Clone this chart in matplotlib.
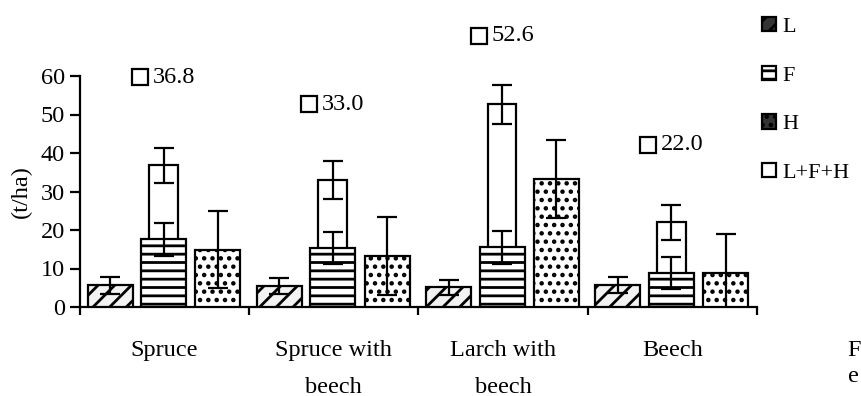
import matplotlib
matplotlib.use('Agg')
import numpy as np
from matplotlib import pyplot as plt
from matplotlib.patches import Patch

# values (t/ha)
groups = ['Spruce', 'Spruce with\nbeech', 'Larch with\nbeech', 'Beech']
litter_l = [5.6, 5.5, 5.1, 5.8]
litter_l_err = [2.1, 2.1, 2.0, 2.1]
litter_f = [17.6, 15.3, 15.5, 8.9]
litter_f_err = [4.3, 4.2, 4.25, 4.2]
litter_h = [14.9, 13.3, 33.2, 8.9]
litter_h_err = [10.0, 10.1, 10.1, 10.1]
total = [36.8, 33.0, 52.6, 22.0]
total_err = [4.6, 5.0, 5.0, 4.5]
label_y = [59.7, 52.7, 70.4, 42.1]

plt.rcParams['font.family'] = ['Liberation Serif', 'DejaVu Serif']
plt.rcParams['hatch.linewidth'] = 2.0
fs = 17.5

fig = plt.figure(figsize=(8.62, 3.96), dpi=100)
ax = fig.add_axes([80 / 862, 1 - 307 / 396, 677 / 862, 231 / 396])

x = np.arange(len(groups))
bar_w = 0.266
tot_w = 0.17
edge = dict(edgecolor='black', linewidth=1.6)
err_kw = dict(fmt='none', ecolor='black', elinewidth=1.6, capsize=7, capthick=1.6, zorder=5)

ax.bar(x + 0.178, litter_l, bar_w, facecolor='#f2f2f2', hatch='//', zorder=3, **edge)
ax.bar(x + 0.494, total, tot_w, facecolor='white', zorder=2, **edge)
ax.bar(x + 0.494, litter_f, bar_w, facecolor='white', hatch='--', zorder=3, **edge)
ax.bar(x + 0.814, litter_h, bar_w, facecolor='white', hatch='..', zorder=3, **edge)

ax.errorbar(x + 0.178, litter_l, yerr=litter_l_err, **err_kw)
ax.errorbar(x + 0.494, litter_f, yerr=litter_f_err, **err_kw)
ax.errorbar(x + 0.494, total, yerr=total_err, **err_kw)
ax.errorbar(x + 0.814, litter_h, yerr=litter_h_err, **err_kw)

# value boxes above each group
for i, (t, ly) in enumerate(zip(total, label_y)):
    ax.plot(i + 0.355, ly, marker='s', markersize=11, mfc='white', mec='black', mew=1.6,
            clip_on=False, zorder=6)
    ax.text(i + 0.43, ly, f'{t:.1f}', va='center', ha='left', fontsize=fs, clip_on=False)

ax.set_xlim(0, len(groups))
ax.set_ylim(0, 60)
ax.set_yticks(range(0, 61, 10))
ax.set_xticks(range(len(groups) + 1))
ax.set_xticklabels([])
ax.set_xticks(x + 0.5, minor=True)
ax.set_xticklabels(groups, minor=True, fontsize=fs)
ax.tick_params(axis='x', which='minor', length=0, pad=24)
ax.tick_params(axis='x', which='major', length=6, width=1.6, direction='out')
ax.tick_params(axis='y', length=7, width=1.6, direction='out', labelsize=fs, pad=4)
for lab in ax.get_xticklabels(minor=True):
    lab.set_linespacing(1.95)
for side in ['top', 'right']:
    ax.spines[side].set_visible(False)
for side in ['left', 'bottom']:
    ax.spines[side].set_linewidth(1.6)
ax.set_ylabel('(t/ha)', fontsize=fs, labelpad=6)

handles = [
    Patch(facecolor='#333333', edgecolor='black', hatch='//', linewidth=1.6),
    Patch(facecolor='white', edgecolor='black', hatch='--', linewidth=1.6),
    Patch(facecolor='#333333', edgecolor='black', hatch='..', linewidth=1.6),
    Patch(facecolor='white', edgecolor='black', linewidth=1.6),
]
fig.legend(handles, ['L', 'F', 'H', 'L+F+H'], loc='upper left', bbox_to_anchor=(753 / 862, 1 - 8 / 396),
           frameon=False, fontsize=16, handlelength=0.65, handleheight=0.6, handletextpad=0.25,
           labelspacing=1.3, borderaxespad=0)

# caption letters at the right edge
fig.text(847 / 862, 1 - 350 / 396, 'F', fontsize=fs, va='center', ha='left')
fig.text(848 / 862, 1 - 377 / 396, 'e', fontsize=fs, va='center', ha='left')

fig.savefig('out.png', dpi=100)
